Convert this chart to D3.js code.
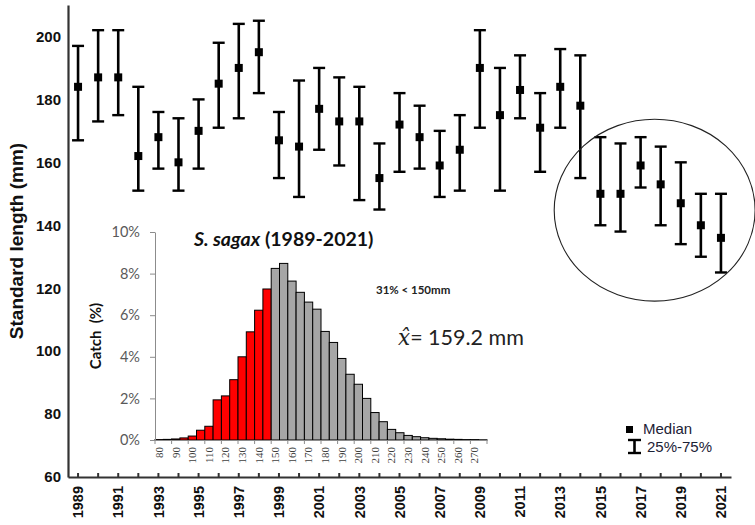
<!DOCTYPE html>
<html>
<head>
<meta charset="utf-8">
<script src="https://cdn.jsdelivr.net/npm/d3@7"></script>
<style>
  body { margin: 0; background: #fff; }
  svg { display: block; }
</style>
</head>
<body>
<div id="chart"></div>
<script>
// yearly standard length (mm), median with 25%-75% range
var years = [1989, 1990, 1991, 1992, 1993, 1994, 1995, 1996, 1997, 1998, 1999,
             2000, 2001, 2002, 2003, 2004, 2005, 2006, 2007, 2008, 2009, 2010,
             2011, 2012, 2013, 2014, 2015, 2016, 2017, 2018, 2019, 2020, 2021];
var medians = [184, 187, 187, 162, 168, 160, 170, 185, 190, 195, 167,
               165, 177, 173, 173, 155, 172, 168, 159, 164, 190, 175,
               183, 171, 184, 178, 150, 150, 159, 153, 147, 140, 136];
var q25 = [167, 173, 175, 151, 158, 151, 158, 171, 174, 182, 155,
           149, 164, 159, 148, 145, 157, 158, 149, 151, 171, 151,
           174, 157, 171, 155, 140, 138, 152, 140, 134, 130, 125];
var q75 = [197, 202, 202, 184, 176, 174, 180, 198, 204, 205, 176,
           186, 190, 187, 184, 166, 182, 178, 170, 175, 202, 190,
           194, 182, 196, 194, 168, 166, 168, 165, 160, 150, 150];
var yTicks = [60, 80, 100, 120, 140, 160, 180, 200];

// length frequency of catch, 5 mm bins
var bins = [80, 85, 90, 95, 100, 105, 110, 115, 120, 125, 130, 135, 140, 145,
            150, 155, 160, 165, 170, 175, 180, 185, 190, 195, 200, 205, 210, 215,
            220, 225, 230, 235, 240, 245, 250, 255, 260, 265, 270, 275];
var catchPct = [0.02, 0.03, 0.05, 0.1, 0.19, 0.47, 0.66, 1.93, 2.12, 2.9, 4.0, 5.2, 6.24, 7.26,
                8.25, 8.49, 7.64, 7.1, 6.63, 6.29, 5.22, 4.69, 3.92, 3.16, 2.68, 2.0, 1.32, 0.88,
                0.51, 0.35, 0.22, 0.16, 0.11, 0.08, 0.06, 0.04, 0.03, 0.02, 0.02, 0.01];
var binLabels = [80, 90, 100, 110, 120, 130, 140, 150, 160, 170,
                 180, 190, 200, 210, 220, 230, 240, 250, 260, 270];
var pctTicks = [0, 2, 4, 6, 8, 10];
var cutoff = 150;

var width = 755;
var height = 525;

var svg = d3.select("#chart")
    .append("svg")
    .attr("width", width)
    .attr("height", height);

// ---- main chart ----
var x = d3.scaleBand()
    .domain(years)
    .range([68, 731]);

var y = d3.scaleLinear()
    .domain([60, 210])
    .range([477, 5]);

var cx = function(d){ return x(d) + x.bandwidth() / 2; };

var xAxis = svg.append("g")
    .attr("transform", "translate(0," + y(60) + ")")
    .call(d3.axisBottom(x)
        .tickSizeInner(-4)
        .tickSizeOuter(0)
        .tickFormat(function(d){ return d % 2 === 1 ? d : ""; }));

xAxis.selectAll("path, line")
    .attr("stroke", "#333")
    .attr("stroke-width", 2);
xAxis.select(".domain").attr("stroke-width", 2.2);

xAxis.selectAll("text")
    .attr("transform", "rotate(-90)")
    .attr("text-anchor", "end")
    .attr("x", -9)
    .attr("y", 0)
    .attr("dy", "0.36em")
    .attr("fill", "#111")
    .style("font-family", "'Liberation Sans', Arial, sans-serif")
    .style("font-size", "14.5px")
    .style("font-weight", "bold");

var yAxis = svg.append("g")
    .attr("transform", "translate(" + x.range()[0] + ",0)")
    .call(d3.axisLeft(y)
        .tickValues(yTicks)
        .tickSize(0)
        .tickPadding(7));

yAxis.select(".domain")
    .attr("stroke", "#333")
    .attr("stroke-width", 2.2);

yAxis.selectAll("text")
    .attr("fill", "#111")
    .style("font-family", "'Liberation Sans', Arial, sans-serif")
    .style("font-size", "15px")
    .style("font-weight", "bold");

svg.append("text")
    .attr("transform", "translate(23," + y(135) + ") rotate(-90)")
    .attr("text-anchor", "middle")
    .attr("fill", "#111")
    .style("font-family", "'Liberation Sans', Arial, sans-serif")
    .style("font-size", "19px")
    .style("font-weight", "bold")
    .text("Standard length (mm)");

// error bars
var bars = svg.append("g").selectAll("g")
    .data(years)
    .enter()
    .append("g");

bars.append("line")
    .attr("x1", cx).attr("x2", cx)
    .attr("y1", function(d, i){ return y(q25[i]); })
    .attr("y2", function(d, i){ return y(q75[i]); })
    .attr("stroke", "#000")
    .attr("stroke-width", 2.6);

bars.append("line")
    .attr("x1", function(d){ return cx(d) - 6; })
    .attr("x2", function(d){ return cx(d) + 6; })
    .attr("y1", function(d, i){ return y(q25[i]); })
    .attr("y2", function(d, i){ return y(q25[i]); })
    .attr("stroke", "#000")
    .attr("stroke-width", 2.4);

bars.append("line")
    .attr("x1", function(d){ return cx(d) - 6; })
    .attr("x2", function(d){ return cx(d) + 6; })
    .attr("y1", function(d, i){ return y(q75[i]); })
    .attr("y2", function(d, i){ return y(q75[i]); })
    .attr("stroke", "#000")
    .attr("stroke-width", 2.4);

bars.append("rect")
    .attr("x", function(d){ return cx(d) - 4; })
    .attr("y", function(d, i){ return y(medians[i]) - 4; })
    .attr("width", 8)
    .attr("height", 8)
    .attr("fill", "#000");

// highlight of recent years
var xl = d3.scaleLinear()
    .domain([years[0], years[years.length - 1]])
    .range([cx(years[0]), cx(years[years.length - 1])]);

svg.append("ellipse")
    .attr("cx", xl(2017.7))
    .attr("cy", y(144.8))
    .attr("rx", xl(2022.7) - xl(2017.7))
    .attr("ry", y(144.8) - y(173.7))
    .attr("fill", "none")
    .attr("stroke", "#222")
    .attr("stroke-width", 1.1);

// legend
var legend = svg.append("g")
    .attr("transform", "translate(626,426)")
    .style("font-family", "'Liberation Sans', Arial, sans-serif")
    .style("font-size", "15px");

legend.append("rect")
    .attr("width", 7).attr("height", 7)
    .attr("fill", "#000");

legend.append("text")
    .attr("x", 17).attr("y", 7.5)
    .attr("fill", "#1c2236")
    .text("Median");

legend.append("line")
    .attr("x1", 8.5).attr("x2", 8.5)
    .attr("y1", 14).attr("y2", 27)
    .attr("stroke", "#000").attr("stroke-width", 2.6);
legend.append("line")
    .attr("x1", 2).attr("x2", 15)
    .attr("y1", 14).attr("y2", 14)
    .attr("stroke", "#000").attr("stroke-width", 2.4);
legend.append("line")
    .attr("x1", 2).attr("x2", 15)
    .attr("y1", 27).attr("y2", 27)
    .attr("stroke", "#000").attr("stroke-width", 2.4);

legend.append("text")
    .attr("x", 21).attr("y", 26)
    .attr("fill", "#1c2236")
    .text("25%-75%");

// ---- inset histogram ----
var hx = d3.scaleBand()
    .domain(bins)
    .range([155, 487]);

var hy = d3.scaleLinear()
    .domain([0, 10])
    .range([440, 232]);

var inset = svg.append("g");

inset.selectAll("rect")
    .data(bins)
    .enter()
    .append("rect")
    .attr("x", function(d){ return hx(d); })
    .attr("y", function(d, i){ return hy(catchPct[i]); })
    .attr("width", hx.bandwidth())
    .attr("height", function(d, i){ return hy(0) - hy(catchPct[i]); })
    .attr("fill", function(d){ return d < cutoff ? "#ff0000" : "#a6a6a6"; })
    .attr("stroke", "#000")
    .attr("stroke-width", 1);

var hyAxis = inset.append("g")
    .attr("transform", "translate(" + hx.range()[0] + ",0)")
    .call(d3.axisLeft(hy)
        .tickValues(pctTicks)
        .tickFormat(function(d){ return d + "%"; })
        .tickSizeInner(5)
        .tickSizeOuter(0)
        .tickPadding(10));

hyAxis.selectAll("path, line").attr("stroke", "#8c8c8c");
hyAxis.selectAll("text")
    .attr("fill", "#595959")
    .style("font-family", "Lato, 'Open Sans', sans-serif")
    .style("font-size", "14.5px");

var hxAxis = inset.append("g")
    .attr("transform", "translate(0," + hy(0) + ")")
    .call(d3.axisBottom(hx)
        .tickValues(binLabels)
        .tickSize(0));

hxAxis.select(".domain").attr("stroke", "#8c8c8c");
hxAxis.selectAll("text")
    .attr("transform", "rotate(-90)")
    .attr("text-anchor", "end")
    .attr("x", -7)
    .attr("y", 0)
    .attr("dy", "0.35em")
    .attr("fill", "#404040")
    .style("font-family", "'Liberation Serif', 'Times New Roman', serif")
    .style("font-size", "11px");

// boundary ticks every two bins
inset.append("g").selectAll("line")
    .data(binLabels.concat([280]))
    .enter()
    .append("line")
    .attr("x1", function(d){ return d === 280 ? hx.range()[1] : hx(d); })
    .attr("x2", function(d){ return d === 280 ? hx.range()[1] : hx(d); })
    .attr("y1", hy(0))
    .attr("y2", hy(0) + 4)
    .attr("stroke", "#8c8c8c");

inset.append("text")
    .attr("transform", "translate(101," + hy(5) + ") rotate(-90)")
    .attr("text-anchor", "middle")
    .attr("fill", "#111")
    .style("font-family", "Lato, 'Open Sans', sans-serif")
    .style("font-size", "15px")
    .style("font-weight", "bold")
    .text("Catch\u00a0\u00a0(%)");

var title = inset.append("text")
    .attr("x", 194)
    .attr("y", 246)
    .attr("fill", "#111")
    .style("font-family", "Lato, 'Open Sans', sans-serif")
    .style("font-size", "19.5px")
    .style("font-weight", "bold");
title.append("tspan").style("font-style", "italic").text("S. sagax");
title.append("tspan").text(" (1989-2021)");

inset.append("text")
    .attr("x", 376)
    .attr("y", 294)
    .attr("fill", "#222")
    .style("font-family", "Lato, 'Open Sans', sans-serif")
    .style("font-size", "11.5px")
    .style("font-weight", "bold")
    .text("31% < 150mm");

var mean = inset.append("text")
    .attr("x", 398)
    .attr("y", 345)
    .attr("fill", "#222")
    .style("font-family", "Lato, 'Open Sans', sans-serif")
    .style("font-size", "21.5px");
mean.append("tspan")
    .style("font-family", "'DejaVu Serif', serif")
    .style("font-style", "italic")
    .text("x\u0302");
mean.append("tspan").text("= 159.2 mm");
</script>
</body>
</html>
